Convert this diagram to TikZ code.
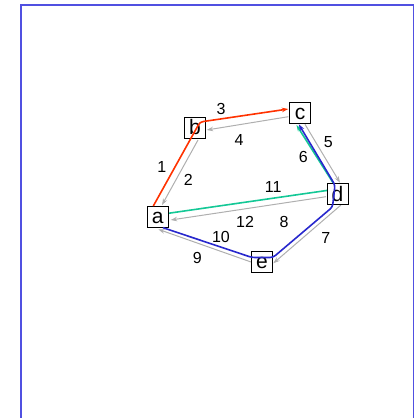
\documentclass[tikz,border=0pt]{standalone}
\usepackage{fontspec}
\setmainfont{Liberation Sans}
\usetikzlibrary{arrows.meta}
\definecolor{frameblue}{RGB}{80,80,225}
\definecolor{redpath}{RGB}{255,50,0}
\definecolor{tealpath}{RGB}{20,200,150}
\definecolor{bluepath}{RGB}{40,40,205}
\definecolor{edgegray}{RGB}{175,175,175}
\tikzset{
  vert/.style={draw=black, fill=white, line width=0.9pt, minimum width=21pt, minimum height=21pt,
    inner sep=0pt, font=\fontsize{21}{21}\selectfont, text height=14.5pt, text depth=0.5pt},
  lbl/.style={font=\fontsize{16}{16}\selectfont, inner sep=0pt},
  gedge/.style={draw=edgegray, line width=1pt, -{Stealth[length=6.5pt,width=4.5pt]}},
  cpath/.style={line width=1.6pt, rounded corners=3pt, -{Stealth[length=6.5pt,width=4.5pt]}}
}
\begin{document}
\begin{tikzpicture}[x=1pt,y=-1pt]
\useasboundingbox (0,0) rectangle (416,418);
\draw[frameblue, line width=1.7pt] (20.7,418) -- (20.7,4.7) -- (413.5,4.7) -- (413.5,418);

% node positions
\coordinate (pa) at (157.8,216.5);
\coordinate (pb) at (195,127.8);
\coordinate (pc) at (300,112.8);
\coordinate (pd) at (337.5,194.2);
\coordinate (pe) at (262,261.5);

% gray directed edges
\draw[gedge] ([shift={(3,12.2)}]pb) -- ([shift={(4.2,-11.5)}]pa);
\draw[gedge] ([shift={(-11.7,3.9)}]pc) -- ([shift={(11.7,2.2)}]pb);
\draw[gedge] ([shift={(5,11.5)}]pc) -- ([shift={(2.5,-11.5)}]pd);
\draw[gedge] ([shift={(3.5,10.8)}]pd) -- ([shift={(11.3,1.8)}]pe);
\draw[gedge] ([shift={(-11,0.5)}]pe) -- ([shift={(0.5,12.8)}]pa);
\draw[gedge] ([shift={(-11.5,2.5)}]pd) -- ([shift={(12.9,3.5)}]pa);

% teal path a -> d -> c
\draw[cpath, tealpath] ([shift={(10.5,-3.2)}]pa) -- ([shift={(-0.5,-5.2)}]pd) -- ([shift={(-3.5,12.2)}]pc);

% nodes
\node[vert] (a) at (pa) {a};
\node[vert] (b) at (pb) {b};
\node[vert] (c) at (pc) {c};
\node[vert] (d) at (pd) {d};
\node[vert] (e) at (pe) {e};

% red path a -> b -> c
\draw[cpath, redpath] ([shift={(-4.5,-10.5)}]a.center) -- ([shift={(5,-5.8)}]b.center) -- ([shift={(-11.7,-3.8)}]c.center);

% blue path a -> e -> d -> c
\draw[cpath, bluepath] ([shift={(5.2,11.2)}]a.center) -- ([shift={(-10,-4)}]e.center) -- ([shift={(11,-4)}]e.center)
  -- ([shift={(-5,12.8)}]d.center) -- ([shift={(-2.5,-9.2)}]d.center) -- ([shift={(-1.2,11.5)}]c.center);

% labels
\node[lbl] (l1) at (161.7,166.7) {1};
\node[lbl] (l2) at (188.3,180) {2};
\node[lbl] (l3) at (221,109) {3};
\node[lbl] (l4) at (239,140) {4};
\node[lbl] (l5) at (328.3,141.7) {5};
\node[lbl] (l6) at (303.3,156.7) {6};
\node[lbl] (l7) at (325.7,238.3) {7};
\node[lbl] (l8) at (284,221.7) {8};
\node[lbl] (l9) at (197.3,258.3) {9};
\node[lbl] (l10) at (221,236.7) {10};
\node[lbl] (l11) at (273.3,186.7) {11};
\node[lbl] (l12) at (245,221.7) {12};
\end{tikzpicture}
\end{document}
